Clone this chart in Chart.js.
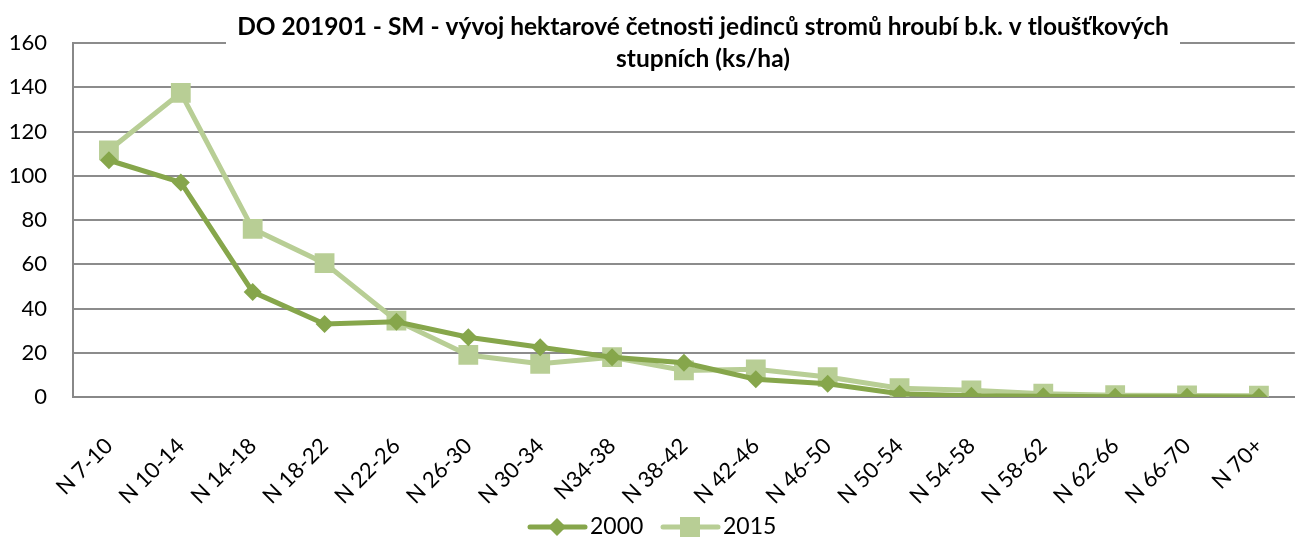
<!DOCTYPE html>
<html>
<head>
<meta charset="utf-8">
<script src="https://cdn.jsdelivr.net/npm/chart.js@4.4.0/dist/chart.umd.min.js"></script>
<style>
  html, body { margin: 0; padding: 0; background: #fff; }
  #wrap { width: 1314px; height: 540px; }
</style>
</head>
<body>
<div id="wrap"><canvas id="graf"></canvas></div>
<script>
// data
const categories = ['N 7-10', 'N 10-14', 'N 14-18', 'N 18-22', 'N 22-26', 'N 26-30', 'N 30-34', 'N34-38',
    'N 38-42', 'N 42-46', 'N 46-50', 'N 50-54', 'N 54-58', 'N 58-62', 'N 62-66', 'N 66-70', 'N 70+'];
const values2000 = [107, 97, 47.5, 33, 34, 27, 22.5, 18, 15.5, 8, 6, 1.5, 0.6, 0.3, 0.1, 0.1, 0];
const values2015 = [111.5, 137.5, 76, 60.5, 34.5, 19, 15, 18, 12, 12.5, 9, 4, 3, 1.5, 0.8, 0.7, 0.6];
const seriesNames = ['2000', '2015'];
const yTicks = [0, 20, 40, 60, 80, 100, 120, 140, 160];
const titleLines = ['DO 201901 - SM - vývoj hektarové četnosti jedinců stromů hroubí b.k. v tloušťkových', 'stupních (ks/ha)'];

const FONT = 'Lato, "Open Sans", sans-serif';
const dark = '#86a64b';
const light = '#b8ce95';

// title box drawn over the plot like in excel
const titlePlugin = {
    id: 'titleBox',
    afterDraw(chart) {
        const ctx = chart.ctx;
        ctx.save();
        ctx.fillStyle = '#fff';
        ctx.fillRect(226, 0, 954, 76);
        ctx.fillStyle = '#000';
        ctx.font = 'bold 24.5px ' + FONT;
        ctx.textAlign = 'center';
        ctx.textBaseline = 'middle';
        ctx.fillText(titleLines[0], 703, 27);
        ctx.fillText(titleLines[1], 703, 59);
        ctx.restore();
    }
};

// legend with line + marker
const legendPlugin = {
    id: 'lineLegend',
    afterDraw(chart) {
        const ctx = chart.ctx;
        const y = 527;
        let x = 530;
        ctx.save();
        ctx.font = '23px ' + FONT;
        ctx.textBaseline = 'middle';
        chart.data.datasets.forEach((ds) => {
            ctx.strokeStyle = ds.borderColor;
            ctx.lineWidth = 5;
            ctx.lineCap = 'round';
            ctx.beginPath();
            ctx.moveTo(x, y);
            ctx.lineTo(x + 55, y);
            ctx.stroke();
            ctx.fillStyle = ds.pointBackgroundColor;
            ctx.beginPath();
            if (ds.pointStyle === 'rect') {
                ctx.rect(x + 27 - 10, y - 10, 20, 20);
            } else {
                ctx.moveTo(x + 27, y - 9);
                ctx.lineTo(x + 36, y);
                ctx.lineTo(x + 27, y + 9);
                ctx.lineTo(x + 18, y);
                ctx.closePath();
            }
            ctx.fill();
            ctx.fillStyle = '#000';
            ctx.fillText(ds.label, x + 60, y);
            x += 133;
        });
        ctx.restore();
    }
};

new Chart(document.getElementById('graf'), {
    type: 'line',
    data: {
        labels: categories,
        datasets: [{
            label: seriesNames[0],
            data: values2000,
            borderColor: dark,
            backgroundColor: dark,
            pointBackgroundColor: dark,
            pointBorderColor: dark,
            borderWidth: 5,
            pointStyle: 'rectRot',
            pointRadius: 9,
            pointBorderWidth: 0,
            tension: 0
        }, {
            label: seriesNames[1],
            data: values2015,
            borderColor: light,
            backgroundColor: light,
            pointBackgroundColor: light,
            pointBorderColor: light,
            borderWidth: 5,
            pointStyle: 'rect',
            pointRadius: 14,
            pointBorderWidth: 0,
            tension: 0
        }]
    },
    options: {
        responsive: true,
        maintainAspectRatio: false,
        animation: false,
        layout: { padding: { top: 43, right: 10, bottom: 28, left: 0 } },
        plugins: {
            legend: { display: false },
            title: { display: false },
            tooltip: { enabled: false }
        },
        scales: {
            x: {
                offset: true,
                grid: { display: false, drawTicks: false },
                border: { display: true, color: '#888', width: 2 },
                ticks: {
                    color: '#000',
                    font: { family: FONT, size: 22 },
                    maxRotation: 45,
                    minRotation: 45,
                    autoSkip: false,
                    padding: 36
                },
                afterFit(axis) { axis.height = 115; }
            },
            y: {
                min: 0,
                max: 160,
                afterBuildTicks(axis) { axis.ticks = yTicks.map(v => ({ value: v })); },
                grid: { color: '#8c8c8c', lineWidth: 2, drawTicks: false },
                border: { display: true, color: '#888', width: 2 },
                ticks: {
                    color: '#000',
                    font: { family: FONT, size: 22 },
                    padding: 26
                },
                afterFit(axis) { axis.width = 73; }
            }
        }
    },
    plugins: [titlePlugin, legendPlugin]
});
</script>
</body>
</html>
